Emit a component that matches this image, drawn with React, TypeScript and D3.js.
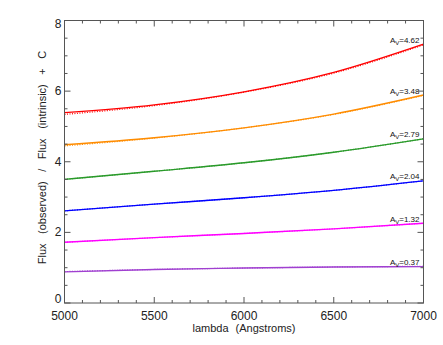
import React, { useEffect, useRef } from 'react';
import * as d3 from 'd3';

const lambdas = [5000, 5500, 6000, 6500, 7000];

const avLabels = ['4.62', '3.48', '2.79', '2.04', '1.32', '0.37'];
const colors = ['#ff0000', '#ff8c00', '#2a9a2a', '#0000ff', '#ff00ff', '#a040d0'];

// solid curves (fit)
const fitRed = [5.39, 5.61, 5.98, 6.53, 7.33];
const fitOrange = [4.48, 4.68, 4.96, 5.35, 5.89];
const fitGreen = [3.50, 3.73, 3.97, 4.27, 4.65];
const fitBlue = [2.61, 2.80, 2.98, 3.19, 3.46];
const fitMagenta = [1.72, 1.85, 1.97, 2.10, 2.26];
const fitPurple = [0.88, 0.95, 0.99, 1.02, 1.03];

// dotted curves (observed ratio)
const obsRed = [5.34, 5.59, 5.97, 6.51, 7.31];
const obsOrange = [4.45, 4.67, 4.96, 5.34, 5.88];
const obsGreen = [3.50, 3.73, 3.97, 4.27, 4.65];
const obsBlue = [2.61, 2.80, 2.98, 3.19, 3.46];
const obsMagenta = [1.72, 1.85, 1.97, 2.10, 2.26];
const obsPurple = [0.89, 0.95, 0.99, 1.02, 1.04];

const fits = [fitRed, fitOrange, fitGreen, fitBlue, fitMagenta, fitPurple];
const obs = [obsRed, obsOrange, obsGreen, obsBlue, obsMagenta, obsPurple];

const xTicks = [5000, 5500, 6000, 6500, 7000];
const yTicks = [0, 2, 4, 6, 8];

const App = () => {
    const svgRef = useRef(null);

    useEffect(() => {
        const svg = d3.select(svgRef.current);
        svg.selectAll('*').remove();

        const W = 443, H = 345;
        const margin = { top: 20.5, right: 19.5, bottom: 42, left: 64.5 };
        const x = d3.scaleLinear().domain([5000, 7000]).range([margin.left, W - margin.right]);
        const y = d3.scaleLinear().domain([0, 8]).range([H - margin.bottom, margin.top]);
        const font = "'Liberation Sans', Arial, sans-serif";
        const axisColor = '#555';

        const line = d3.line<number>()
            .x((d, i) => x(lambdas[i]))
            .y(d => y(d))
            .curve(d3.curveMonotoneX);

        fits.forEach((vals, k) => {
            svg.append('path')
                .attr('d', line(obs[k]))
                .attr('fill', 'none')
                .attr('stroke', colors[k])
                .attr('stroke-width', 1.2)
                .attr('stroke-dasharray', '1,1.5');
            svg.append('path')
                .attr('d', line(vals))
                .attr('fill', 'none')
                .attr('stroke', colors[k])
                .attr('stroke-width', 1.4);

            const t = svg.append('text')
                .attr('x', x(7000) - 4)
                .attr('y', y(vals[vals.length - 1]) - 1.5)
                .attr('text-anchor', 'end')
                .style('font-family', font)
                .style('font-size', '8px')
                .attr('fill', '#111');
            t.append('tspan').text('A');
            t.append('tspan').attr('dy', 2).style('font-size', '6px').text('V');
            t.append('tspan').attr('dy', -2).text('=' + avLabels[k]);
        });

        const axes = svg.append('g').attr('stroke', axisColor).attr('stroke-width', 1);
        const left = x(5000), right = x(7000), top = y(8), bottom = y(0);
        axes.append('rect')
            .attr('x', left).attr('y', top)
            .attr('width', right - left).attr('height', bottom - top)
            .attr('fill', 'none');

        d3.range(5000, 7001, 100).forEach(v => {
            const len = v % 500 === 0 ? 6 : 3;
            axes.append('line').attr('x1', x(v)).attr('x2', x(v)).attr('y1', bottom).attr('y2', bottom - len);
            axes.append('line').attr('x1', x(v)).attr('x2', x(v)).attr('y1', top).attr('y2', top + len);
        });
        d3.range(0, 8.01, 0.5).forEach(v => {
            const len = v % 2 === 0 ? 6 : 3;
            axes.append('line').attr('y1', y(v)).attr('y2', y(v)).attr('x1', left).attr('x2', left + len);
            axes.append('line').attr('y1', y(v)).attr('y2', y(v)).attr('x1', right).attr('x2', right - len);
        });

        xTicks.forEach(v => {
            svg.append('text')
                .attr('x', x(v)).attr('y', bottom + 16.5)
                .attr('text-anchor', 'middle')
                .style('font-family', font).style('font-size', '12px')
                .attr('fill', '#222')
                .text(v);
        });
        yTicks.forEach(v => {
            // end labels are kept inside the axis span, as in the original plot
            const dy = v === 0 ? 0 : v === 8 ? 7 : 4;
            svg.append('text')
                .attr('x', left - 3).attr('y', y(v) + dy)
                .attr('text-anchor', 'end')
                .style('font-family', font).style('font-size', '12px')
                .attr('fill', '#222')
                .text(v);
        });

        svg.append('text')
            .attr('x', (left + right) / 2).attr('y', bottom + 28.5)
            .attr('text-anchor', 'middle')
            .style('font-family', font).style('font-size', '11px')
            .style('word-spacing', '4px')
            .attr('fill', '#222')
            .text('lambda (Angstroms)');

        svg.append('text')
            .attr('transform', `translate(45.5,157.5) rotate(-90)`)
            .attr('text-anchor', 'middle')
            .style('font-family', font).style('font-size', '11px')
            .style('word-spacing', '6.5px')
            .attr('fill', '#222')
            .text('Flux (observed) / Flux (intrinsic) + C');
    }, []);

    return (
        <svg ref={svgRef} width={443} height={345}
            style={{ position: 'absolute', left: 0, top: 0, background: '#fff' }} />
    );
};

export default App;
